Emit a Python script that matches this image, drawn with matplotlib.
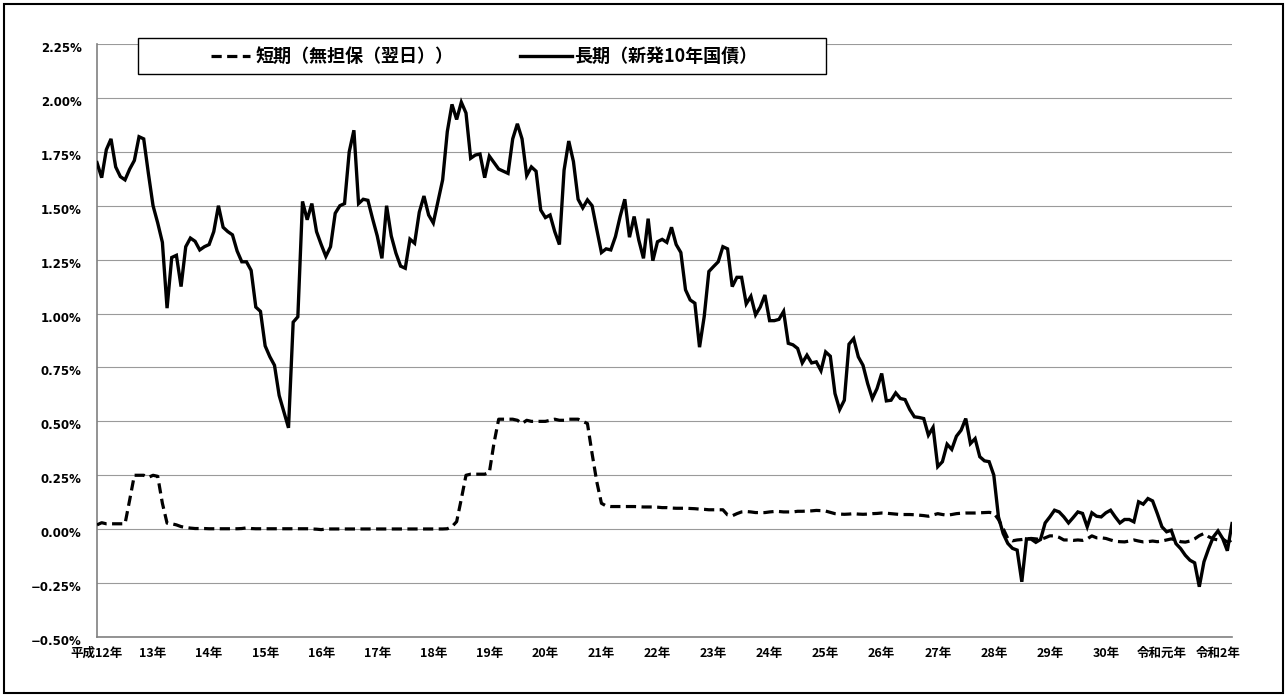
import numpy as np
import matplotlib
matplotlib.use("Agg")
import matplotlib.pyplot as plt
from matplotlib.patches import Rectangle
from matplotlib.lines import Line2D
import matplotlib.transforms as mtransforms

plt.rcParams['font.family'] = ['Noto Sans CJK JP', 'DejaVu Sans']

# monthly data, 平成12年1月 .. 令和2年4月 (%)
long_rate = [
    1.70, 1.63, 1.76, 1.81, 1.68, 1.635, 1.62, 1.67, 1.71, 1.82, 1.81, 1.65,
    1.50, 1.42, 1.33, 1.025, 1.26, 1.27, 1.125, 1.31, 1.35, 1.335, 1.295, 1.31,
    1.32, 1.38, 1.50, 1.40, 1.38, 1.365, 1.29, 1.24, 1.24, 1.20, 1.03, 1.01,
    0.85, 0.80, 0.76, 0.62, 0.545, 0.47, 0.96, 0.985, 1.52, 1.435, 1.51, 1.38,
    1.32, 1.265, 1.31, 1.465, 1.50, 1.51, 1.75, 1.85, 1.51, 1.53, 1.525, 1.44,
    1.36, 1.256, 1.50, 1.36, 1.28, 1.22, 1.21, 1.345, 1.326, 1.47, 1.545, 1.457,
    1.42, 1.52, 1.62, 1.844, 1.97, 1.90, 1.98, 1.93, 1.72, 1.735, 1.74, 1.63,
    1.73, 1.70, 1.67, 1.66, 1.65, 1.81, 1.88, 1.81, 1.64, 1.68, 1.66, 1.48,
    1.445, 1.457, 1.38, 1.32, 1.665, 1.80, 1.705, 1.53, 1.49, 1.527, 1.50, 1.39,
    1.283, 1.30, 1.295, 1.357, 1.45, 1.53, 1.354, 1.45, 1.34, 1.256, 1.44, 1.245,
    1.333, 1.344, 1.33, 1.40, 1.32, 1.283, 1.11, 1.063, 1.048, 0.844, 0.986, 1.195,
    1.218, 1.24, 1.31, 1.30, 1.125, 1.168, 1.168, 1.045, 1.08, 0.994, 1.03, 1.086,
    0.967, 0.967, 0.973, 1.01, 0.862, 0.855, 0.838, 0.771, 0.807, 0.771, 0.776, 0.735,
    0.822, 0.802, 0.629, 0.555, 0.598, 0.858, 0.884, 0.799, 0.760, 0.675, 0.606, 0.652,
    0.722, 0.595, 0.598, 0.632, 0.606, 0.601, 0.555, 0.521, 0.518, 0.513, 0.436, 0.472,
    0.290, 0.313, 0.394, 0.370, 0.431, 0.459, 0.513, 0.397, 0.420, 0.336, 0.317, 0.313,
    0.251, 0.057, -0.020, -0.066, -0.089, -0.097, -0.244, -0.045, -0.046, -0.061, -0.048, 0.029,
    0.057, 0.088, 0.080, 0.057, 0.029, 0.054, 0.080, 0.073, 0.011, 0.076, 0.060, 0.057,
    0.076, 0.088, 0.057, 0.029, 0.045, 0.045, 0.034, 0.127, 0.116, 0.142, 0.131, 0.073,
    0.011, -0.012, -0.005, -0.067, -0.090, -0.121, -0.144, -0.156, -0.267, -0.151, -0.090, -0.036,
    -0.008, -0.043, -0.100, 0.026,
]

short_rate = [
    0.020, 0.030, 0.025, 0.025, 0.025, 0.025, 0.025, 0.136, 0.250, 0.250, 0.250, 0.240,
    0.250, 0.245, 0.120, 0.028, 0.025, 0.020, 0.012, 0.008, 0.005, 0.003, 0.003, 0.003,
    0.002, 0.002, 0.002, 0.002, 0.002, 0.002, 0.002, 0.003, 0.006, 0.003, 0.002, 0.002,
    0.002, 0.002, 0.002, 0.002, 0.002, 0.002, 0.002, 0.002, 0.002, 0.002, 0.001, 0.000,
    -0.002, 0.001, 0.001, 0.001, 0.001, 0.001, 0.001, 0.001, 0.001, 0.001, 0.001, 0.001,
    0.001, 0.001, 0.001, 0.001, 0.001, 0.001, 0.001, 0.001, 0.001, 0.001, 0.001, 0.001,
    0.001, 0.001, 0.001, 0.002, 0.012, 0.035, 0.140, 0.250, 0.255, 0.255, 0.255, 0.255,
    0.263, 0.400, 0.510, 0.510, 0.510, 0.510, 0.505, 0.490, 0.505, 0.500, 0.500, 0.500,
    0.500, 0.505, 0.510, 0.505, 0.505, 0.510, 0.510, 0.510, 0.500, 0.490, 0.350, 0.220,
    0.120, 0.108, 0.105, 0.105, 0.105, 0.105, 0.105, 0.105, 0.104, 0.103, 0.103, 0.103,
    0.102, 0.100, 0.100, 0.098, 0.097, 0.097, 0.097, 0.096, 0.095, 0.093, 0.092, 0.090,
    0.090, 0.090, 0.090, 0.066, 0.062, 0.072, 0.080, 0.082, 0.080, 0.077, 0.077, 0.077,
    0.080, 0.082, 0.082, 0.080, 0.080, 0.080, 0.083, 0.083, 0.084, 0.085, 0.087, 0.086,
    0.084, 0.078, 0.072, 0.070, 0.069, 0.070, 0.072, 0.070, 0.069, 0.070, 0.072, 0.073,
    0.075, 0.074, 0.072, 0.070, 0.068, 0.068, 0.068, 0.067, 0.065, 0.063, 0.060, 0.066,
    0.072, 0.068, 0.065, 0.068, 0.072, 0.074, 0.075, 0.075, 0.075, 0.076, 0.077, 0.078,
    0.075, 0.045, 0.003, -0.043, -0.054, -0.050, -0.048, -0.045, -0.043, -0.045, -0.048, -0.040,
    -0.031, -0.031, -0.038, -0.050, -0.050, -0.052, -0.050, -0.052, -0.045, -0.031, -0.040, -0.040,
    -0.043, -0.050, -0.056, -0.058, -0.059, -0.055, -0.050, -0.055, -0.059, -0.058, -0.055, -0.058,
    -0.055, -0.050, -0.045, -0.050, -0.058, -0.060, -0.055, -0.045, -0.030, -0.020, -0.035, -0.045,
    -0.050, -0.045, -0.060, -0.050,
]

year_labels = ['平成12年', '13年', '14年', '15年', '16年', '17年', '18年', '19年',
               '20年', '21年', '22年', '23年', '24年', '25年', '26年', '27年',
               '28年', '29年', '30年', '令和元年', '令和2年']

label_short = '短期（無担保（翌日））'
label_long = '長期（新発10年国債）'

W, H = 1288, 695
fig = plt.figure(figsize=(W / 100, H / 100), dpi=100)

def fx(px):
    return px / W

def fy(py):
    return 1 - py / H

ax = fig.add_axes([fx(97), fy(637), fx(1232) - fx(97), fy(44) - fy(637)])

months = np.arange(len(long_rate))
ax.plot(months, short_rate, color='black', lw=2.3, ls=(0, (3.2, 1.7)),
        solid_capstyle='butt', dash_capstyle='butt', zorder=3)
ax.plot(months, long_rate, color='black', lw=2.4, solid_joinstyle='miter', zorder=4)

ax.set_xlim(0, len(long_rate) - 1)
ax.set_ylim(-0.5, 2.25)
ax.set_yticks(np.arange(-0.5, 2.26, 0.25))
ax.set_yticklabels([('\u2212' if v < 0 else '') + '%.2f%%' % abs(v)
                    for v in np.arange(-0.5, 2.26, 0.25)],
                   family='DejaVu Sans', fontweight='bold', fontsize=8.5)
ax.set_xticks(np.arange(0, len(long_rate), 12))
ax.set_xticklabels(year_labels, fontweight='bold', fontsize=9)
ax.tick_params(axis='y', length=0, pad=11)
ax.tick_params(axis='x', length=0, pad=7)

# nudge y labels down a little like the original
offset = mtransforms.ScaledTranslation(0, -3 / 100, fig.dpi_scale_trans)
for lab in ax.get_yticklabels():
    lab.set_transform(lab.get_transform() + offset)

ax.yaxis.grid(True, color='#9a9a9a', lw=0.8)
ax.set_axisbelow(True)
for s in ['top', 'right']:
    ax.spines[s].set_visible(False)
ax.spines['left'].set_color('#808080')
ax.spines['bottom'].set_color('#808080')
ax.spines['left'].set_linewidth(1.2)
ax.spines['bottom'].set_linewidth(1.2)

# legend box
fig.patches.append(Rectangle((fx(138), fy(74)), fx(826) - fx(138), fy(38) - fy(74),
                             transform=fig.transFigure, facecolor='white',
                             edgecolor='black', lw=1.0, zorder=5))
ly = fy(56)
fig.lines.append(Line2D([fx(211), fx(250)], [ly, ly], color='black', lw=2.3,
                        ls=(0, (3.2, 1.7)), transform=fig.transFigure, zorder=6))
fig.text(fx(256), ly, label_short, fontsize=13, fontweight='bold',
         va='center', ha='left', zorder=6)
fig.lines.append(Line2D([fx(520), fx(572)], [ly, ly], color='black', lw=2.4,
                        transform=fig.transFigure, zorder=6))
fig.text(fx(574), ly, label_long, fontsize=13, fontweight='bold',
         va='center', ha='left', zorder=6)

# outer frame
fig.patches.append(Rectangle((fx(4), fy(693)), fx(1283) - fx(4), fy(4) - fy(693),
                             transform=fig.transFigure, facecolor='none',
                             edgecolor='black', lw=1.5, zorder=7))

fig.savefig('out.png', dpi=100)
